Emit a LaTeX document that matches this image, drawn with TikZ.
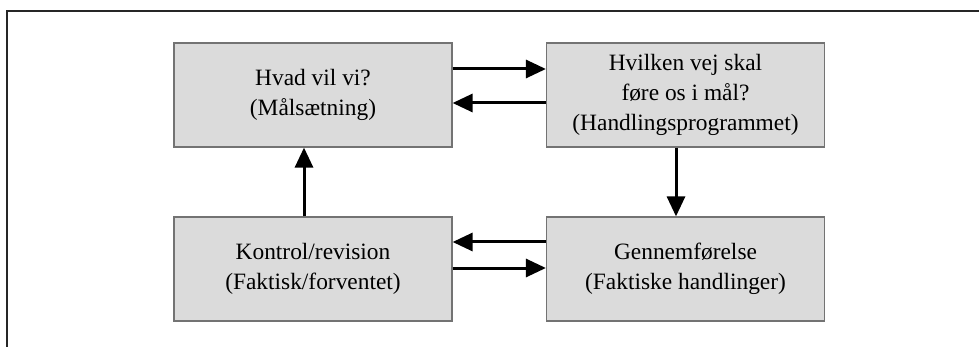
\documentclass[tikz,border=0pt]{standalone}
\usepackage{fontspec}
\setmainfont{Liberation Serif}
\usetikzlibrary{arrows.meta}

\begin{document}
\begin{tikzpicture}[x=0.5pt,y=-0.5pt,
	box/.style={draw=black!55,line width=0.6pt,fill=black!14,minimum width=139pt,minimum height=52pt,
		inner sep=0pt,align=center,font=\fontsize{11.7}{14.8}\selectfont},
	arr/.style={line width=1.5pt,-{Triangle[length=10pt,width=9pt]}}]
				\useasboundingbox (0,0) rectangle (979,347);
				\draw[line width=0.9pt,black!85] (7,347) -- (7,11) -- (979,11);
				\node[box] (maal) at (313,95) {Hvad vil vi?\\(Målsætning)};
				\node[box] (plan) at (685.5,95) {Hvilken vej skal\\føre os i mål?\\(Handlingsprogrammet)};
				\node[box] (kont) at (313,269) {Kontrol/revision\\(Faktisk/forventet)};
				\node[box] (udf) at (685.5,269) {Gennemførelse\\(Faktiske handlinger)};
				\draw[arr] ([yshift=13pt]maal.east) -- ([yshift=13pt]plan.west);
				\draw[arr] ([yshift=-4pt]plan.west) -- ([yshift=-4pt]maal.east);
				\draw[arr] ([xshift=-4.75pt]plan.south) -- ([xshift=-4.75pt]udf.north);
				\draw[arr] ([yshift=13.5pt]udf.west) -- ([yshift=13.5pt]kont.east);
				\draw[arr] ([yshift=0.5pt]kont.east) -- ([yshift=0.5pt]udf.west);
				\draw[arr] ([xshift=-4.5pt]kont.north) -- ([xshift=-4.5pt]maal.south);
			\end{tikzpicture}
\end{document}
